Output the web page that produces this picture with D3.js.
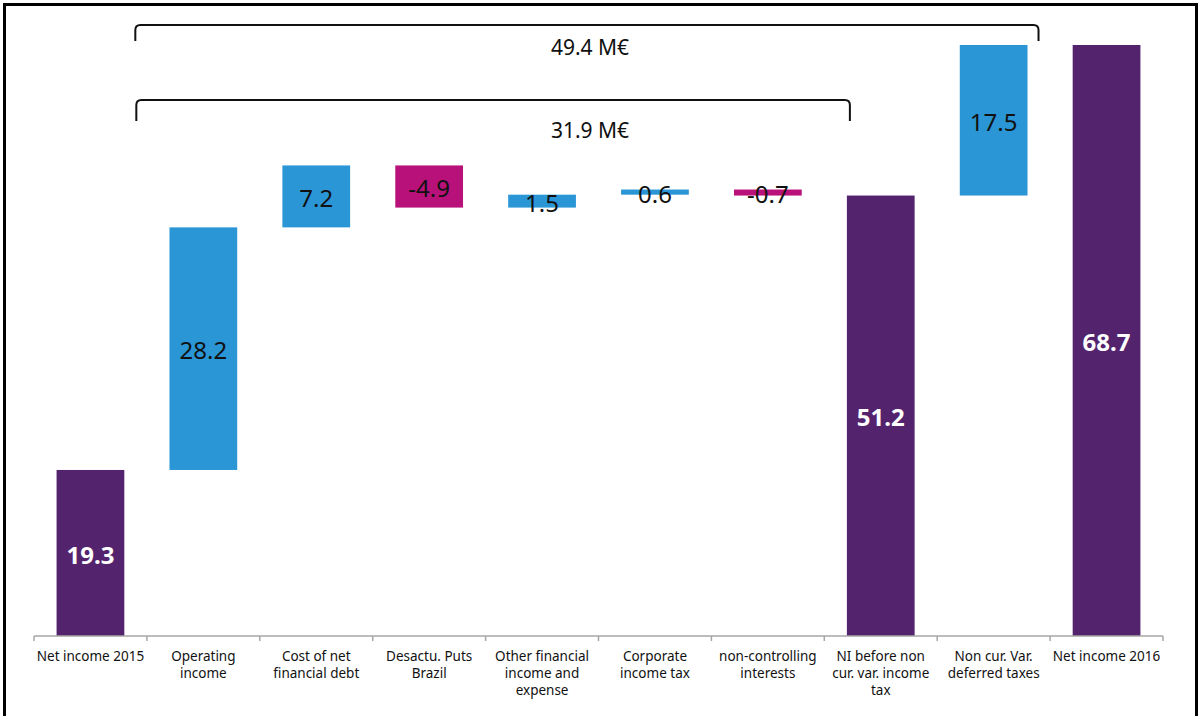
<!DOCTYPE html>
<html>
<head>
<meta charset="utf-8">
<script src="https://cdn.jsdelivr.net/npm/d3@7"></script>
<style>
  html, body { margin: 0; padding: 0; background: #fff; }
  svg { display: block; font-family: "Noto Sans", "DejaVu Sans", sans-serif; }
</style>
</head>
<body>
<svg id="chart" width="1200" height="716"></svg>
<script>
// Bridge from 2015 to 2016 net income (M€)
const categories = [
  "Net income 2015",
  "Operating\nincome",
  "Cost of net\nfinancial debt",
  "Desactu. Puts\nBrazil",
  "Other financial\nincome and\nexpense",
  "Corporate\nincome tax",
  "non-controlling\ninterests",
  "NI before non\ncur. var. income\ntax",
  "Non cur. Var.\ndeferred taxes",
  "Net income 2016"
];
const values = [19.3, 28.2, 7.2, -4.9, 1.5, 0.6, -0.7, 51.2, 17.5, 68.7];
const kinds = ["total", "delta", "delta", "delta", "delta", "delta", "delta", "total", "delta", "total"];
const spanLabels = ["49.4 M€", "31.9 M€"];
const spanValues = [49.4, 31.9];

const colors = { total: "#54236E", up: "#2A96D6", down: "#B8127A" };

// Cumulative start/end of each step
let running = 0;
const bars = categories.map((c, i) => {
  let y0, y1;
  if (kinds[i] === "total") { y0 = 0; y1 = values[i]; running = values[i]; }
  else { y0 = running; y1 = running + values[i]; running = y1; }
  return { cat: c, value: values[i], kind: kinds[i], y0, y1 };
});

const svg = d3.select("#chart");

// Outer frame
svg.append("rect")
  .attr("x", 4.5).attr("y", 4.5).attr("width", 1192).attr("height", 720)
  .attr("fill", "none").attr("stroke", "#000").attr("stroke-width", 3);

const x = d3.scaleBand().domain(categories).range([34, 1163]).paddingInner(0.4).paddingOuter(0.2);
const y = d3.scaleLinear().domain([0, d3.max(values)]).range([636, 45]);
const step = x.step();
const fmt = v => d3.format(".1f")(v).replace("\u2212", "-");

// Bars
svg.append("g").selectAll("rect").data(bars).join("rect")
  .attr("x", d => x(d.cat))
  .attr("width", x.bandwidth())
  .attr("y", d => y(Math.max(d.y0, d.y1)))
  .attr("height", d => Math.abs(y(d.y0) - y(d.y1)))
  .attr("fill", d => d.kind === "total" ? colors.total : (d.value >= 0 ? colors.up : colors.down));

// Value labels
svg.append("g").selectAll("text").data(bars).join("text")
  .attr("x", d => x(d.cat) + x.bandwidth() / 2)
  .attr("y", d => (y(d.y0) + y(d.y1)) / 2 + 4)
  .attr("text-anchor", "middle")
  .attr("dominant-baseline", "middle")
  .attr("font-size", 24)
  .attr("font-weight", d => d.kind === "total" ? "bold" : "normal")
  .attr("fill", d => d.kind === "total" ? "#fff" : "#111")
  .text(d => fmt(d.value));

// Axis: line with ticks on band boundaries
const axisY = y(0);
const axisG = svg.append("g").attr("transform", `translate(0,${axisY})`);
axisG.append("line")
  .attr("x1", 34).attr("x2", 1163).attr("y1", 0).attr("y2", 0)
  .attr("stroke", "#A6A6A6").attr("stroke-width", 1.5);
const bounds = d3.range(categories.length + 1).map(i => 34 + i * step);
axisG.selectAll("line.tick").data(bounds).join("line")
  .attr("class", "tick")
  .attr("x1", d => d).attr("x2", d => d).attr("y1", 0).attr("y2", 5)
  .attr("stroke", "#A6A6A6").attr("stroke-width", 1.5);

// Category labels (multi-line)
const labels = axisG.selectAll("text.cat").data(categories).join("text")
  .attr("class", "cat")
  .attr("text-anchor", "middle")
  .attr("font-size", 13.5)
  .attr("fill", "#111")
  .attr("transform", d => `translate(${x(d) + x.bandwidth() / 2},25)`);
labels.each(function(d) {
  const t = d3.select(this);
  d.split("\n").forEach((line, k) => {
    t.append("tspan").attr("x", 0).attr("y", k * 17).text(line);
  });
});

// Brackets showing total change
const labelX = 590;
function bracket(x1, x2, yTop, yBot, label, labelY) {
  const r = 5;
  const p = d3.path();
  p.moveTo(x1, yBot);
  p.lineTo(x1, yTop + r);
  p.quadraticCurveTo(x1, yTop, x1 + r, yTop);
  p.lineTo(x2 - r, yTop);
  p.quadraticCurveTo(x2, yTop, x2, yTop + r);
  p.lineTo(x2, yBot);
  svg.append("path").attr("d", p.toString())
    .attr("fill", "none").attr("stroke", "#111").attr("stroke-width", 2);
  svg.append("text")
    .attr("x", labelX).attr("y", labelY)
    .attr("text-anchor", "middle").attr("dominant-baseline", "middle")
    .attr("font-size", 21).attr("fill", "#111")
    .text(label);
}
const bx1 = x(categories[0]) + x.bandwidth() + 11;
bracket(bx1, x(categories[8]) + x.bandwidth() + 11, 25, 41, spanLabels[0], 49);
bracket(bx1 + 1, x(categories[7]) + 3, 100, 121, spanLabels[1], 132);
</script>
</body>
</html>
